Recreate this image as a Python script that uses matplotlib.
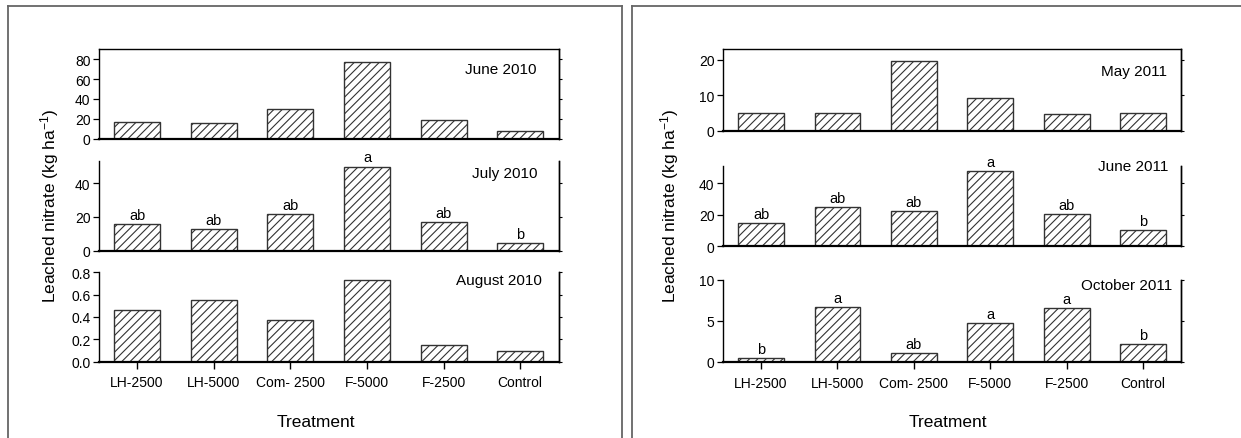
import matplotlib
matplotlib.use("Agg")
import matplotlib.pyplot as plt
from matplotlib.lines import Line2D
from matplotlib.ticker import FixedLocator, FormatStrFormatter

plt.rcParams['font.family'] = ['Liberation Sans', 'DejaVu Sans']
plt.rcParams['mathtext.fontset'] = 'custom'
plt.rcParams['mathtext.rm'] = 'Liberation Sans'
plt.rcParams['mathtext.it'] = 'Liberation Sans:italic'
plt.rcParams['mathtext.bf'] = 'Liberation Sans:bold'
plt.rcParams['hatch.linewidth'] = 0.8
plt.rcParams['hatch.color'] = '#222222'

treatments = ["LH-2500", "LH-5000", "Com- 2500", "F-5000", "F-2500", "Control"]

june2010 = [16.3, 15.7, 29.7, 77.0, 19.0, 7.7]
july2010 = [15.8, 12.6, 22.0, 49.9, 16.8, 4.8]
july2010_letters = ["ab", "ab", "ab", "a", "ab", "b"]
aug2010 = [0.466, 0.555, 0.375, 0.734, 0.147, 0.096]

may2011 = [4.9, 5.1, 19.8, 9.2, 4.6, 5.1]
june2011 = [14.6, 24.8, 22.6, 47.8, 20.7, 10.5]
june2011_letters = ["ab", "ab", "ab", "a", "ab", "b"]
oct2011 = [0.5, 6.7, 1.1, 4.7, 6.6, 2.2]
oct2011_letters = ["b", "a", "ab", "a", "a", "b"]

W, H = 1241, 439
fig = plt.figure(figsize=(W / 100, H / 100), dpi=100)

def px_axes(x0, x1, yt, yb):
    return fig.add_axes([x0 / W, 1 - yb / H, (x1 - x0) / W, (yb - yt) / H])

panels = [
    (98.8, 558.5, 50, 139.5, june2010, None, "June 2010", 90.5, [0, 20, 40, 60, 80], '%d', (22, 20.5), True, False),
    (98.8, 558.5, 162, 251.7, july2010, july2010_letters, "July 2010", 53.2, [0, 20, 40], '%d', (21, 12.3), False, False),
    (98.8, 558.5, 273.3, 362.5, aug2010, None, "August 2010", 0.8, [0.0, 0.2, 0.4, 0.6, 0.8], '%.1f', (17, 8), False, True),
    (722.8, 1181.3, 50, 131.7, may2011, None, "May 2011", 23.1, [0, 10, 20], '%d', (14, 21.7), True, False),
    (722.8, 1181.3, 166.7, 247.3, june2011, june2011_letters, "June 2011", 51.2, [0, 20, 40], '%d', (13, 0), False, False),
    (722.8, 1181.3, 281, 362.7, oct2011, oct2011_letters, "October 2011", 10, [0, 5, 10], '%d', (9, 5), False, True),
]

x = list(range(len(treatments)))
for (x0, x1, yt, yb, data, letters, title, ymax, ticks, fmt, (dx, dy), topspine, showx) in panels:
    ax = px_axes(x0, x1, yt, yb)
    ax.bar(x, data, width=0.6, color='white', edgecolor='#333333', linewidth=1.0, hatch='////')
    ax.set_xlim(-0.5, 5.5)
    ax.set_ylim(0, ymax)
    ax.yaxis.set_major_locator(FixedLocator(ticks))
    ax.yaxis.set_major_formatter(FormatStrFormatter(fmt))
    ax.spines['top'].set_visible(topspine)
    for s in ['left', 'right', 'top']:
        ax.spines[s].set_linewidth(1.0)
    ax.spines['bottom'].set_linewidth(1.6)
    ax.tick_params(axis='y', which='major', direction='out', length=4, width=0.9,
                   labelsize=10, pad=2, right=False)
    # short ticks on the right spine
    sec = ax.secondary_yaxis('right')
    sec.yaxis.set_major_locator(FixedLocator(ticks))
    sec.tick_params(axis='y', direction='out', length=2, width=0.8, labelright=False)
    sec.spines['right'].set_linewidth(1.0)
    ax.set_xticks(x)
    if showx:
        ax.set_xticklabels(treatments)
        ax.tick_params(axis='x', direction='out', length=5, width=1.0, labelsize=10, pad=5)
    else:
        ax.tick_params(axis='x', length=0, labelbottom=False)
    if letters is not None:
        for xi, v, lab in zip(x, data, letters):
            ax.annotate(lab, xy=(xi, v), xytext=(0, 1.5), textcoords='offset points',
                        ha='center', va='bottom', fontsize=10.5)
    ax.annotate(title, xy=(1, 1), xycoords='axes fraction', xytext=(-dx, -dy),
                textcoords='offset pixels', ha='right', va='center', fontsize=11)

fig.text(316 / W, 1 - 422.7 / H, "Treatment", ha='center', va='center', fontsize=12.5)
fig.text(948 / W, 1 - 422.7 / H, "Treatment", ha='center', va='center', fontsize=12.5)
ylab = "Leached nitrate (kg ha$^{\\mathregular{-1}}$)"
fig.text(49.4 / W, 1 - 206 / H, ylab, ha='center', va='center', rotation=90, fontsize=12.5)
fig.text(669.4 / W, 1 - 206 / H, ylab, ha='center', va='center', rotation=90, fontsize=12.5)

fc = '#666666'
def fline(xs, ys):
    fig.add_artist(Line2D([v / W for v in xs], [1 - v / H for v in ys], color=fc, linewidth=1.3))

fline([8, 8], [7, H])
fline([8, 622], [7, 7])
fline([622, 622], [7, H])
fline([632, 632], [7, H])
fline([632, W], [7, 7])

fig.savefig("out.png", dpi=100)
